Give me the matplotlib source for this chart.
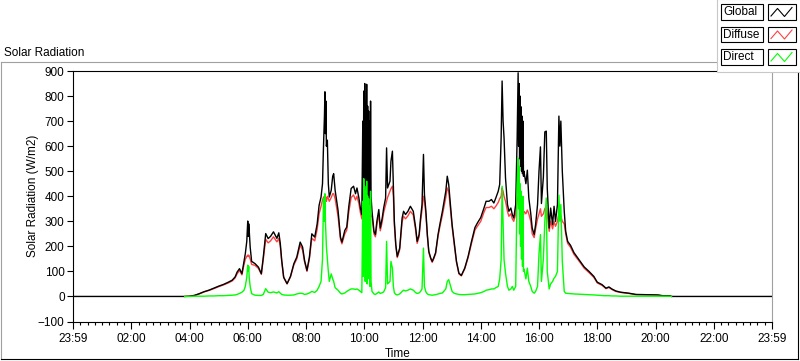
import numpy as np
import matplotlib
matplotlib.use("Agg")
import matplotlib.pyplot as plt
from matplotlib.patches import Rectangle
from matplotlib.ticker import MultipleLocator, FixedLocator

nan = np.nan

# ---------------- data (minutes after midnight, W/m2) ----------------
time_min = [0, 230, 240, 250, 260, 270, 280, 290, 300, 310, 320, 328, 334, 338, 343, 348, 352, 355, 358, 360,
            361, 362, 363, 365, 368, 375, 382, 388, 392, 397, 402, 407, 413, 420, 424, 427, 430, 434, 441, 448,
            455, 461, 468, 473, 477, 482, 487, 492, 498, 503, 507, 511, 514, 516, 518, 519, 520, 521, 522, 524,
            526, 528, 532, 535, 537, 540, 546, 551, 554, 560, 564, 568, 573, 578, 582, 585, 589, 592, 595, 597,
            598, 599, 600, 601, 602, 603, 604, 605, 606, 607, 608, 609, 610, 611, 612, 613, 614, 616, 620, 623,
            626, 630, 633, 637, 640, 644, 646, 648, 653, 655, 658, 660, 662, 665, 668, 673, 678, 681, 685, 690,
            695, 701, 706, 709, 713, 716, 719, 722, 724, 727, 730, 733, 737, 740, 743, 747, 752, 756, 761, 768,
            771, 774, 778, 781, 785, 790, 795, 800, 807, 814, 821, 828, 833, 840, 847, 851, 857, 862, 867, 871,
            876, 879, 882, 884, 886, 888, 891, 895, 898, 902, 905, 908, 912, 915, 917, 918, 919, 920, 921, 922,
            923, 924, 925, 926, 927, 928, 929, 933, 936, 939, 943, 946, 950, 953, 957, 960, 963, 965, 969, 972,
            975, 977, 981, 984, 988, 991, 994, 998, 1001, 1003, 1005, 1008, 1012, 1015, 1019, 1025, 1032, 1043, 1053, 1063,
            1073, 1080, 1090, 1094, 1098, 1104, 1110, 1118, 1128, 1145, 1160, 1180, 1205, 1215, 1230, 1233, 1440]

global_wm2 = [0, 0, 1, 4, 11, 19, 25, 33, 41, 48, 57, 65, 78, 97, 111, 91, 137, 171, 220, 301,
              240, 290, 264, 197, 140, 131, 117, 91, 157, 251, 231, 240, 258, 232, 254, 212, 144, 77, 51, 80,
              131, 157, 217, 197, 144, 104, 157, 250, 237, 290, 364, 397, 450, 597, 720, 817, 650, 780, 600, 624,
              450, 397, 424, 480, 490, 424, 344, 237, 217, 264, 277, 357, 431, 440, 410, 433, 393, 353, 327, 700,
              380, 820, 400, 850, 350, 780, 420, 847, 360, 760, 400, 740, 380, 700, 350, 780, 400, 340, 260, 247,
              300, 347, 273, 313, 353, 393, 593, 433, 460, 540, 580, 433, 300, 207, 160, 193, 313, 340, 327, 340,
              360, 340, 273, 220, 247, 313, 367, 567, 407, 340, 247, 180, 153, 140, 153, 175, 247, 290, 340, 420,
              480, 447, 353, 287, 220, 140, 93, 84, 113, 160, 220, 275, 293, 315, 355, 380, 380, 387, 373, 393,
              420, 447, 633, 860, 700, 633, 473, 367, 340, 353, 327, 313, 367, 633, 893, 600, 850, 550, 800, 520,
              757, 500, 720, 490, 700, 480, 500, 450, 504, 393, 331, 273, 247, 287, 367, 500, 597, 371, 477, 657,
              660, 433, 273, 353, 287, 360, 300, 367, 720, 600, 700, 500, 340, 260, 220, 204, 175, 145, 118, 100,
              80, 57, 47, 40, 33, 38, 30, 22, 17, 13, 8, 7, 6, 3, 3, 0, 0]

diffuse_wm2 = [nan, 0, 1, 4, 10, 18, 24, 31, 39, 46, 54, 62, 74, 90, 104, 86, 125, 148, 160, 165,
               160, 165, 160, 150, 128, 124, 112, 88, 148, 228, 214, 222, 238, 218, 232, 200, 138, 75, 50, 78,
               126, 150, 205, 185, 138, 100, 150, 232, 222, 268, 330, 360, 385, 395, 400, 400, 390, 395, 380, 400,
               390, 380, 395, 410, 410, 390, 320, 228, 210, 250, 265, 335, 395, 405, 385, 400, 370, 335, 310, 340,
               300, 330, 310, 340, 300, 320, 310, 330, 290, 320, 300, 310, 290, 320, 300, 330, 320, 320, 250, 238,
               285, 330, 262, 298, 335, 365, 380, 395, 420, 430, 440, 400, 285, 200, 155, 186, 298, 320, 310, 322,
               340, 325, 262, 212, 238, 298, 345, 400, 385, 325, 240, 175, 150, 136, 150, 170, 240, 280, 325, 395,
               433, 420, 340, 278, 212, 136, 90, 82, 110, 155, 212, 265, 280, 300, 338, 355, 355, 360, 350, 360,
               375, 390, 400, 433, 420, 400, 380, 340, 320, 330, 310, 300, 330, 380, 400, 380, 390, 370, 380, 360,
               360, 345, 350, 335, 340, 325, 340, 330, 345, 330, 300, 250, 235, 270, 310, 330, 350, 320, 330, 350,
               360, 330, 260, 300, 270, 300, 280, 300, 330, 330, 320, 300, 290, 250, 212, 196, 168, 140, 113, 95,
               76, 54, 44, 38, 31, 36, 28, 20, 16, 12, 7, 6, 5, 2, 2, 0, nan]

direct_wm2 = [nan, 0, 0, 1, 1, 1, 2, 2, 3, 3, 4, 5, 6, 8, 12, 17, 24, 40, 77, 125,
              100, 120, 77, 40, 11, 5, 4, 4, 8, 31, 17, 15, 18, 14, 19, 13, 8, 6, 5, 5,
              6, 10, 13, 12, 8, 10, 14, 20, 16, 25, 40, 60, 150, 390, 300, 410, 300, 250, 200, 150,
              100, 60, 90, 70, 60, 35, 25, 13, 10, 14, 20, 25, 30, 30, 28, 30, 25, 20, 15, 380,
              80, 470, 100, 440, 60, 420, 120, 460, 50, 400, 90, 390, 70, 360, 40, 420, 60, 20, 10, 8,
              12, 18, 12, 15, 18, 35, 220, 50, 60, 140, 113, 40, 15, 8, 6, 10, 20, 25, 22, 25,
              30, 25, 15, 12, 14, 20, 30, 193, 40, 18, 10, 7, 6, 5, 6, 7, 10, 12, 14, 30,
              60, 67, 40, 20, 13, 10, 8, 7, 7, 8, 9, 10, 12, 15, 20, 25, 27, 30, 30, 35,
              40, 70, 147, 440, 300, 147, 93, 40, 25, 30, 40, 25, 40, 447, 553, 350, 520, 250, 450, 200,
              420, 150, 380, 120, 400, 100, 110, 70, 113, 60, 40, 20, 13, 20, 40, 170, 247, 60, 150, 300,
              393, 100, 30, 50, 60, 73, 80, 100, 404, 300, 367, 140, 20, 13, 12, 11, 10, 9, 8, 7,
              6, 5, 4, 3, 3, 3, 2, 2, 1, 1, 1, 1, 1, 1, 1, 0, nan]

series_names = ["Global", "Diffuse", "Direct"]
series_colors = ["#000000", "#ff4040", "#00ff00"]

y_ticks = list(range(-100, 1000, 100))
x_tick_positions = list(range(0, 1441, 120))
x_tick_labels = ["23:59", "02:00", "04:00", "06:00", "08:00", "10:00", "12:00",
                 "14:00", "16:00", "18:00", "20:00", "22:00", "23:59"]

plt.rcParams['font.family'] = ['Liberation Sans', 'DejaVu Sans']
FS = 8.5

W, H = 800, 361
fig = plt.figure(figsize=(W / 100, H / 100), dpi=100)
fig.patch.set_facecolor("white")

ax = fig.add_axes([73 / W, 39.5 / H, 699 / W, 250.5 / H])
series = [global_wm2, diffuse_wm2, direct_wm2]
zorders = [3, 2, 4]
for vals, col, z, name in zip(series, series_colors, zorders, series_names):
    ax.plot(time_min, np.array(vals, dtype=float), color=col, lw=1.0, zorder=z, label=name)

ax.set_xlim(0, 1440)
ax.set_ylim(-100, 900)
ax.yaxis.set_major_locator(FixedLocator(y_ticks))
ax.xaxis.set_major_locator(FixedLocator(x_tick_positions))
ax.set_xticklabels(x_tick_labels)
ax.xaxis.set_minor_locator(MultipleLocator(15))
ax.tick_params(axis='y', direction='out', length=4, width=0.8, pad=2, labelsize=FS)
ax.tick_params(axis='x', which='major', direction='out', length=5, width=0.8, pad=3, labelsize=FS)
ax.tick_params(axis='x', which='minor', direction='out', length=2.5, width=0.8)
for s in ['left', 'top', 'bottom']:
    ax.spines[s].set_color('black')
    ax.spines[s].set_linewidth(0.8)
ax.spines['right'].set_color('#a0a0a0')
ax.spines['right'].set_linewidth(0.8)

# texts
fig.text(4 / W, 1 - 56 / H, "Solar Radiation", fontsize=FS, ha='left', va='baseline')
fig.text(33 / W, 1 - 196 / H, "Solar Radiation (W/m2)", fontsize=FS, rotation=90,
         ha='center', va='center')
fig.text(398 / W, 1 - 354 / H, "Time", fontsize=FS, ha='center', va='center')

# overlay for panel frame and legend (pixel coordinates)
ov = fig.add_axes([0, 0, 1, 1], zorder=10)
ov.set_xlim(0, W)
ov.set_ylim(H, 0)
ov.axis('off')
ov.patch.set_alpha(0)

ov.plot([1, 717], [62, 62], color='#a0a0a0', lw=0.8)
ov.plot([1, 1], [62, 358.5], color='#a0a0a0', lw=0.8)
ov.plot([1, 798], [358.5, 358.5], color='black', lw=0.8)
ov.plot([797.5, 797.5], [72, 358.5], color='black', lw=0.8)

ov.add_patch(Rectangle((717, -1), 84, 73, facecolor='white', edgecolor='#c8c8c8', lw=0.8, zorder=5))
row_tops = [4, 26.5, 49]
for top, name, col in zip(row_tops, series_names, series_colors):
    ov.add_patch(Rectangle((720.5, top), 42.5, 15.5, facecolor='white', edgecolor='black', lw=0.8, zorder=6))
    ov.text(723, top + 8, name, fontsize=FS, ha='left', va='center', zorder=7)
    ov.add_patch(Rectangle((767.5, top), 28.5, 15.5, facecolor='white', edgecolor='black', lw=0.8, zorder=6))
    ov.plot([771, 777.5, 784.5, 792], [top + 12, top + 4.5, top + 12.5, top + 3.5],
            color=col, lw=0.8, zorder=7)

fig.savefig("out.png", dpi=100, facecolor="white")
